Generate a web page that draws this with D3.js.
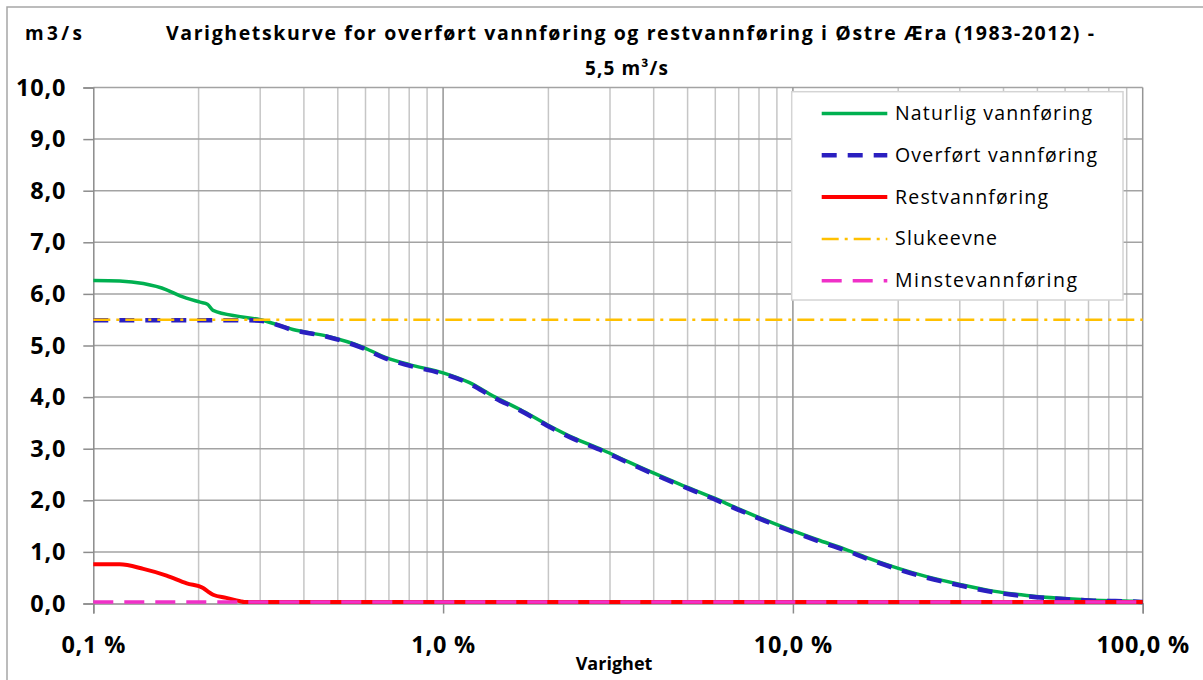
<!DOCTYPE html>
<html>
<head>
<meta charset="utf-8">
<script src="https://cdn.jsdelivr.net/npm/d3@7"></script>
<style>
  body { margin: 0; background: #fff; }
  svg { display: block; font-family: 'Open Sans', sans-serif; }
</style>
</head>
<body>
<div id="chart"></div>
<script>
// duration (% of time) and flow values, m3/s
const durations = [0.1, 0.119, 0.139, 0.162, 0.177, 0.202, 0.212, 0.22, 0.263, 0.30,
  0.372, 0.466, 0.579, 0.69, 0.80, 1.0, 1.19, 1.39, 1.66, 1.98,
  2.36, 2.87, 3.35, 3.99, 4.76, 5.92, 6.91, 8.05, 9.81, 11.7,
  14.25, 16.26, 19.81, 24.13, 30.05, 37.41, 46.61, 58.0, 72.25, 94.0, 100];
const naturlig = [6.26, 6.25, 6.20, 6.08, 5.96, 5.84, 5.80, 5.68, 5.56, 5.50,
  5.31, 5.18, 4.99, 4.76, 4.63, 4.47, 4.28, 4.02, 3.76, 3.47,
  3.21, 2.97, 2.76, 2.53, 2.31, 2.05, 1.85, 1.66, 1.43, 1.24,
  1.04, 0.89, 0.69, 0.52, 0.37, 0.24, 0.155, 0.10, 0.064, 0.045, 0.03];
const overfort = [5.49, 5.49, 5.49, 5.49, 5.49, 5.49, 5.49, 5.49, 5.49, 5.48,
  5.30, 5.17, 4.97, 4.74, 4.61, 4.45, 4.26, 4.00, 3.74, 3.45,
  3.19, 2.95, 2.74, 2.51, 2.29, 2.03, 1.83, 1.64, 1.41, 1.22,
  1.02, 0.87, 0.67, 0.50, 0.35, 0.22, 0.14, 0.09, 0.055, 0.04, 0.03];
const restDurations = [0.1, 0.119, 0.139, 0.162, 0.185, 0.206, 0.212, 0.22, 0.24, 0.263, 0.27, 100];
const restvann = [0.76, 0.76, 0.67, 0.54, 0.39, 0.30, 0.24, 0.17, 0.11, 0.045, 0.03, 0.03];
const constDurations = [0.1, 100];
const slukeevne = [5.5, 5.5];
const minstevann = [0.03, 0.03];

const yTicks = [0, 1, 2, 3, 4, 5, 6, 7, 8, 9, 10];
const xTicks = [0.1, 1, 10, 100];
const minorX = [0.2, 0.3, 0.4, 0.5, 0.6, 0.7, 0.8, 0.9, 2, 3, 4, 5, 6, 7, 8, 9, 20, 30, 40, 50, 60, 70, 80, 90];

const series = [
  { name: 'Naturlig vannføring', xs: durations, ys: naturlig, color: '#00b050', width: 3.5, dash: null, legendText: 197 },
  { name: 'Overført vannføring', xs: durations, ys: overfort, color: '#2a1fc0', width: 4.5, dash: '15,11', legendText: 202 },
  { name: 'Restvannføring', xs: restDurations, ys: restvann, color: '#ff0000', width: 4, dash: null, legendText: 153 },
  { name: 'Slukeevne', xs: constDurations, ys: slukeevne, color: '#ffc000', width: 2.5, dash: '17,6,3,6', legendText: 102 },
  { name: 'Minstevannføring', xs: constDurations, ys: minstevann, color: '#f030c8', width: 3.5, dash: '20,11', legendText: 182 }
];

const width = 1203, height = 680;
const svg = d3.select('#chart').append('svg')
  .attr('width', width)
  .attr('height', height);

// outer frame (only top and left are inside the picture)
svg.append('rect')
  .attr('x', 7).attr('y', 7)
  .attr('width', 1300).attr('height', 800)
  .attr('fill', 'none')
  .attr('stroke', '#a6a6a6')
  .attr('stroke-width', 1.5);

const x = d3.scaleLog().domain([0.1, 100]).range([93.3, 1142.7]);
const y = d3.scaleLinear().domain([0, 10]).range([603.5, 87.5]);

const comma = v => d3.format('.1f')(v).replace('.', ',');

// grid
const grid = svg.append('g');
grid.selectAll('line.minor')
  .data(minorX)
  .join('line')
  .attr('class', 'minor')
  .attr('x1', d => x(d)).attr('x2', d => x(d))
  .attr('y1', y(10)).attr('y2', y(0))
  .attr('stroke', '#c6c6c6')
  .attr('stroke-width', 1.5);
grid.selectAll('line.hor')
  .data(yTicks.filter(d => d > 0))
  .join('line')
  .attr('class', 'hor')
  .attr('x1', x(0.1)).attr('x2', x(100))
  .attr('y1', d => y(d)).attr('y2', d => y(d))
  .attr('stroke', '#a3a3a3')
  .attr('stroke-width', 1.5);
grid.selectAll('line.major')
  .data(xTicks.filter(d => d > 0.1))
  .join('line')
  .attr('class', 'major')
  .attr('x1', d => x(d)).attr('x2', d => x(d))
  .attr('y1', y(10)).attr('y2', y(0))
  .attr('stroke', '#959595')
  .attr('stroke-width', 1.5);

// axes
const yAxis = svg.append('g')
  .attr('transform', `translate(${x(0.1)},0)`)
  .call(d3.axisLeft(y).tickValues(yTicks).tickFormat(comma).tickSize(10).tickPadding(17));
const xAxis = svg.append('g')
  .attr('transform', `translate(0,${y(0)})`)
  .call(d3.axisBottom(x).tickValues(xTicks).tickFormat(d => comma(d) + ' %').tickSize(10).tickPadding(23));

[yAxis, xAxis].forEach(ax => {
  ax.select('.domain').attr('stroke', '#8c8c8c').attr('stroke-width', 1.5);
  ax.selectAll('.tick line').attr('stroke', '#8c8c8c').attr('stroke-width', 1.5);
  ax.selectAll('.tick text')
    .attr('fill', '#000')
    .style('font-family', "'Open Sans', sans-serif")
    .style('font-size', '23.5px')
    .style('font-weight', 'bold')
    .style('letter-spacing', '0.8px');
});
xAxis.selectAll('.tick text').attr('dy', '0.71em');

// lines
const lineGen = d3.line()
  .x(d => x(d[0]))
  .y(d => y(d[1]))
  .curve(d3.curveMonotoneX);

svg.append('g')
  .selectAll('path')
  .data(series)
  .join('path')
  .attr('d', s => lineGen(s.xs.map((v, i) => [v, s.ys[i]])))
  .attr('fill', 'none')
  .attr('stroke', s => s.color)
  .attr('stroke-width', s => s.width)
  .attr('stroke-dasharray', s => s.dash)
  .attr('stroke-linejoin', 'round');

// legend
const legend = svg.append('g');
legend.append('rect')
  .attr('x', 791.7).attr('y', 91.7)
  .attr('width', 331.3).attr('height', 208.3)
  .attr('fill', '#fff')
  .attr('stroke', '#d4d4d4')
  .attr('stroke-width', 1.5);

const rows = legend.selectAll('g.row')
  .data(series)
  .join('g')
  .attr('class', 'row')
  .attr('transform', (d, i) => `translate(0,${113.5 + i * 41.8})`);
rows.append('line')
  .attr('x1', 821.7).attr('x2', 887.3)
  .attr('stroke', d => d.color)
  .attr('stroke-width', d => d.width)
  .attr('stroke-dasharray', d => d.dash);
rows.append('text')
  .attr('x', 895).attr('y', 6.5)
  .attr('textLength', d => d.legendText)
  .attr('lengthAdjust', 'spacing')
  .style('font-size', '19.5px')
  .attr('fill', '#000')
  .text(d => d.name);

// titles
svg.append('text')
  .attr('x', 166).attr('y', 40)
  .attr('textLength', 928)
  .attr('lengthAdjust', 'spacing')
  .style('font-size', '19.5px')
  .style('font-weight', 'bold')
  .text('Varighetskurve for overført vannføring og restvannføring i Østre Æra (1983-2012) -');
svg.append('text')
  .attr('x', 585).attr('y', 75)
  .attr('textLength', 83)
  .attr('lengthAdjust', 'spacing')
  .style('font-size', '19px')
  .style('font-weight', 'bold')
  .text('5,5 m³/s');
svg.append('text')
  .attr('x', 25).attr('y', 40)
  .attr('textLength', 57)
  .attr('lengthAdjust', 'spacing')
  .style('font-size', '19px')
  .style('font-weight', 'bold')
  .text('m3/s');
svg.append('text')
  .attr('x', 614).attr('y', 670)
  .attr('text-anchor', 'middle')
  .style('font-size', '18px')
  .style('font-weight', 'bold')
  .text('Varighet');
</script>
</body>
</html>
